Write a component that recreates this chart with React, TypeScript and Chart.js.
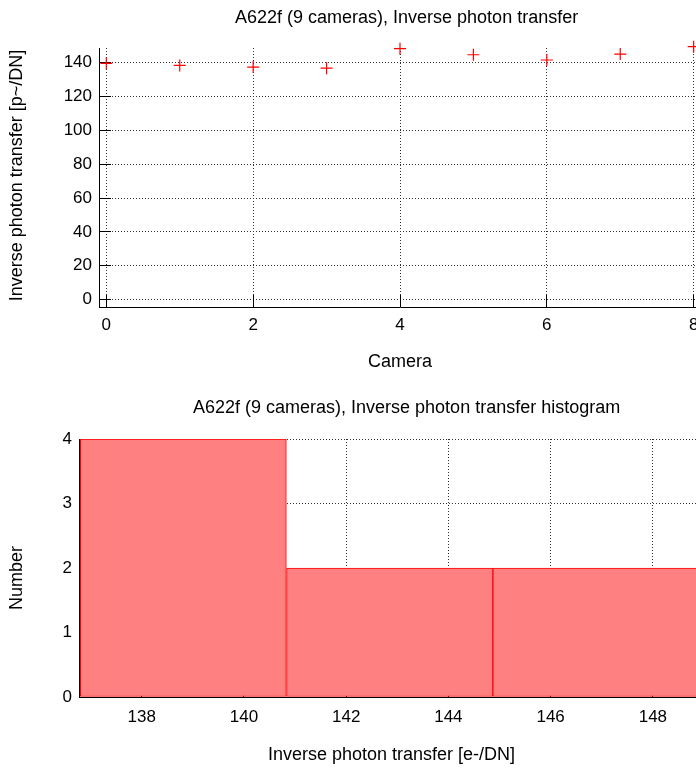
import React, { useEffect, useRef } from "react";
import { Chart, registerables } from "chart.js";

Chart.register(...registerables);

// ---- Top chart data ----
const cameras = [0, 1, 2, 3, 4, 5, 6, 7, 8];
const inversePhotonTransfer = [139.6, 138.4, 137.4, 136.8, 148.3, 144.7, 141.6, 145.1, 149.5];
const topXTicks = [0, 2, 4, 6, 8];
const topYTicks = [0, 20, 40, 60, 80, 100, 120, 140];

// ---- Histogram data ----
const binEdges = [136.8, 140.83, 144.87, 148.9, 152.93];
const binCounts = [4, 2, 2, 1];
const histXTicks = [138, 140, 142, 144, 146, 148];
const histYTicks = [0, 1, 2, 3, 4];

const FONT = "'Liberation Sans', Arial, Helvetica, sans-serif";
const TEXT = "#000";
const FS = 18; // titles and axis labels
const TS = 17; // tick labels

const alignPx = (p: number) => Math.round(p - 0.5) + 0.5;

const inTicksPlugin = {
  id: "inTicks",
  beforeDatasetsDraw(chart: any, _args: any, opts: any) {
    if (!opts || !opts.len) return;
    const { ctx, chartArea } = chart;
    const xs = chart.scales.x;
    const ys = chart.scales.y;
    ctx.save();
    ctx.strokeStyle = "#000";
    ctx.lineWidth = 1;
    ctx.setLineDash([]);
    ctx.beginPath();
    xs.ticks.forEach((t: any) => {
      const p = alignPx(xs.getPixelForValue(t.value));
      ctx.moveTo(p, chartArea.bottom);
      ctx.lineTo(p, chartArea.bottom - opts.len);
    });
    ys.ticks.forEach((t: any) => {
      const p = alignPx(ys.getPixelForValue(t.value));
      ctx.moveTo(chartArea.left, p);
      ctx.lineTo(chartArea.left + opts.len, p);
    });
    ctx.stroke();
    ctx.restore();
  },
};

// vertical axis title and chart heading, drawn as canvas text
const textPlugin = {
  id: "texts",
  afterDraw(chart: any, _args: any, opts: any) {
    if (!opts) return;
    const { ctx, chartArea } = chart;
    ctx.save();
    ctx.fillStyle = TEXT;
    ctx.font = `${opts.size}px ${FONT}`;
    ctx.textBaseline = "middle";
    if (opts.heading) {
      ctx.textAlign = "left";
      ctx.fillText(opts.heading, opts.headX, opts.headY);
    }
    if (opts.yTitle) {
      const cy = (chartArea.top + chartArea.bottom) / 2 + (opts.yDy || 0);
      ctx.translate(opts.yX, cy);
      ctx.rotate(-Math.PI / 2);
      ctx.textAlign = "center";
      ctx.fillText(opts.yTitle, 0, 0);
    }
    ctx.restore();
  },
};

const gridStyle = { color: "#333", lineWidth: 1, drawTicks: false, offset: false };
const borderStyle = { display: true, color: "#000", width: 1, dash: [1, 2] };

function TopChart() {
  const ref = useRef<HTMLCanvasElement | null>(null);
  useEffect(() => {
    if (!ref.current) return;
    const chart = new Chart(ref.current, {
      type: "scatter",
      data: {
        datasets: [
          {
            data: cameras.map((c, i) => ({ x: c, y: inversePhotonTransfer[i] })),
            pointStyle: "cross",
            pointRadius: 6,
            pointHoverRadius: 6,
            pointBorderWidth: 1.2,
            borderColor: "#ff0000",
            backgroundColor: "#ff0000",
            clip: false,
          } as any,
        ],
      },
      plugins: [inTicksPlugin, textPlugin],
      options: {
        animation: false,
        responsive: false,
        events: [],
        layout: { padding: { left: 0, right: 29, top: 48, bottom: 0 } },
        plugins: {
          legend: { display: false },
          tooltip: { enabled: false },
          title: { display: false },
          inTicks: { len: 12 },
          texts: {
            size: FS,
            heading: "A622f (9 cameras), Inverse photon transfer",
            headX: 235,
            headY: 18.5,
            yTitle: "Inverse photon transfer [p~/DN]",
            yX: 17,
            yDy: -2,
          },
        } as any,
        scales: {
          x: {
            type: "linear",
            offset: false,
            min: -0.1,
            max: 8.1,
            afterBuildTicks: (s: any) => {
              s.ticks = topXTicks.map((v) => ({ value: v }));
            },
            afterFit: (s: any) => {
              s.height = 78;
            },
            grid: gridStyle,
            border: borderStyle,
            ticks: {
              color: TEXT,
              font: { family: FONT, size: TS },
              padding: 8,
              maxRotation: 0,
              autoSkip: false,
              callback: (v: any) => String(v),
            },
            title: {
              display: true,
              text: "Camera",
              color: TEXT,
              font: { family: FONT, size: FS },
              padding: { top: 0, bottom: 12 },
            },
          },
          y: {
            type: "linear",
            min: -4.4,
            max: 148.7,
            afterBuildTicks: (s: any) => {
              s.ticks = topYTicks.map((v) => ({ value: v }));
            },
            afterFit: (s: any) => {
              s.width = 99;
            },
            grid: gridStyle,
            border: borderStyle,
            ticks: {
              color: TEXT,
              font: { family: FONT, size: TS },
              padding: 7,
              autoSkip: false,
              callback: (v: any) => String(v),
            },
          },
        },
      } as any,
    });
    return () => chart.destroy();
  }, []);
  return <canvas ref={ref} width={730} height={385} style={{ display: "block" }} />;
}

function HistChart() {
  const ref = useRef<HTMLCanvasElement | null>(null);
  useEffect(() => {
    if (!ref.current) return;
    const centers = binCounts.map((_, i) => (binEdges[i] + binEdges[i + 1]) / 2);
    const xMin = 136.774;
    const xMax = 149;
    const chart = new Chart(ref.current, {
      type: "bar",
      data: {
        datasets: [
          {
            data: centers.map((c, i) => ({ x: c, y: binCounts[i] })),
            xAxisID: "x2",
            yAxisID: "y",
            backgroundColor: "#ff8080",
            borderColor: "#ff0000",
            borderWidth: 1,
            borderSkipped: false,
            barPercentage: 1,
            categoryPercentage: 1,
          } as any,
        ],
      },
      plugins: [inTicksPlugin, textPlugin],
      options: {
        animation: false,
        responsive: false,
        events: [],
        layout: { padding: { left: 0, right: 26, top: 54, bottom: 0 } },
        plugins: {
          legend: { display: false },
          tooltip: { enabled: false },
          title: { display: false },
          inTicks: { len: 12 },
          texts: {
            size: FS,
            heading: "A622f (9 cameras), Inverse photon transfer histogram",
            headX: 193,
            headY: 23,
            yTitle: "Number",
            yX: 17,
            yDy: 10,
          },
        } as any,
        scales: {
          x: {
            type: "linear",
            offset: false,
            min: xMin,
            max: xMax,
            afterBuildTicks: (s: any) => {
              s.ticks = histXTicks.map((v) => ({ value: v }));
            },
            afterFit: (s: any) => {
              s.height = 72;
            },
            grid: gridStyle,
            border: borderStyle,
            ticks: {
              color: TEXT,
              font: { family: FONT, size: TS },
              padding: 10,
              maxRotation: 0,
              autoSkip: false,
              callback: (v: any) => String(v),
            },
            title: {
              display: true,
              text: "Inverse photon transfer [e-/DN]",
              color: TEXT,
              font: { family: FONT, size: FS },
              padding: { top: 0, bottom: 3 },
            },
          },
          x2: {
            type: "linear",
            display: false,
            offset: false,
            min: xMin,
            max: xMax,
            afterBuildTicks: (s: any) => {
              s.ticks = [];
            },
          },
          y: {
            type: "linear",
            min: 0,
            max: 4,
            afterBuildTicks: (s: any) => {
              s.ticks = histYTicks.map((v) => ({ value: v }));
            },
            afterFit: (s: any) => {
              s.width = 79;
            },
            grid: gridStyle,
            border: borderStyle,
            ticks: {
              color: TEXT,
              font: { family: FONT, size: TS },
              padding: 7,
              autoSkip: false,
              callback: (v: any) => String(v),
            },
          },
        },
      } as any,
    });
    return () => chart.destroy();
  }, []);
  return <canvas ref={ref} width={730} height={384} style={{ display: "block" }} />;
}

export default function App() {
  return (
    <div
      style={{
        position: "fixed",
        left: 0,
        top: 0,
        width: 696,
        height: 769,
        overflow: "hidden",
        background: "#fff",
      }}
    >
      <div style={{ position: "absolute", left: 0, top: 0 }}>
        <TopChart />
      </div>
      <div style={{ position: "absolute", left: 0, top: 385 }}>
        <HistChart />
      </div>
    </div>
  );
}
